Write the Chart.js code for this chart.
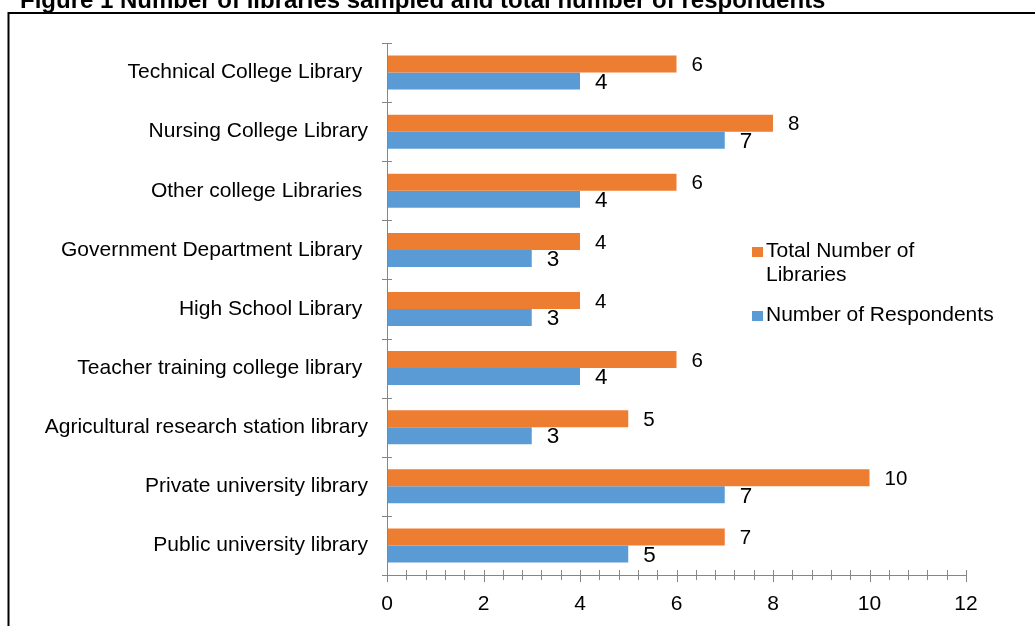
<!DOCTYPE html>
<html>
<head>
<meta charset="utf-8">
<title>Figure 1 Number of libraries sampled and total number of respondents</title>
<script src="https://cdn.jsdelivr.net/npm/chart.js@4.4.1/dist/chart.umd.min.js"></script>
<style>
  html, body { margin: 0; padding: 0; background: #ffffff; }
  #wrap { position: relative; width: 1035px; height: 626px; overflow: hidden; }
  canvas { display: block; }
</style>
</head>
<body>
<div id="wrap"><canvas id="chart" width="1035" height="626"></canvas></div>
<script>
// Library categories, top to bottom
const categories = [
  'Technical College Library ',
  'Nursing College Library',
  'Other college Libraries ',
  'Government Department Library ',
  'High School Library ',
  'Teacher training college library ',
  'Agricultural research station library',
  'Private university library',
  'Public university library'
];

// Totals and respondents per library type
const totalLibraries = [6, 8, 6, 4, 4, 6, 5, 10, 7];
const respondents    = [4, 7, 4, 3, 3, 4, 3, 7, 5];

// Series names (legend lines)
const seriesTotal = ['Total Number of', 'Libraries'];
const seriesResp  = ['Number of Respondents'];

// Value axis
const axisMin = 0;
const axisMax = 12;
const axisStep = 2;

const figureTitle = 'Figure 1 Number of libraries sampled and total number of respondents';

const ORANGE = '#ED7D31';
const BLUE = '#5B9BD5';
const AXIS = '#868686';
const FONT = '"Liberation Sans", Arial, Helvetica, sans-serif';

// Page title and frame around the figure
const framePlugin = {
  id: 'frame',
  beforeDraw(chart) {
    const ctx = chart.ctx;
    ctx.save();
    ctx.fillStyle = '#ffffff';
    ctx.fillRect(0, 0, chart.width, chart.height);
    ctx.strokeStyle = '#000000';
    ctx.lineWidth = 2;
    ctx.beginPath();
    ctx.moveTo(8.5, chart.height + 5);
    ctx.lineTo(8.5, 13);
    ctx.lineTo(chart.width + 5, 13);
    ctx.stroke();
    ctx.fillStyle = '#000000';
    ctx.font = 'bold 24px ' + FONT;
    ctx.textAlign = 'left';
    ctx.textBaseline = 'alphabetic';
    ctx.fillText(figureTitle, 20, 8);
    ctx.restore();
  }
};

// Cross tick marks on both axes (minor unit = major / 5)
const tickPlugin = {
  id: 'crossTicks',
  afterDraw(chart) {
    const ctx = chart.ctx;
    const xs = chart.scales.x;
    const ys = chart.scales.y;
    const a = chart.chartArea;
    ctx.save();
    ctx.strokeStyle = AXIS;
    ctx.lineWidth = 1;
    ctx.beginPath();
    // category boundaries on the y axis
    const n = ys.ticks.length;
    for (let i = 0; i <= n; i++) {
      const y = Math.round(ys.getPixelForValue(i - 0.5)) + 0.5;
      ctx.moveTo(a.left - 5, y);
      ctx.lineTo(a.left + 5, y);
    }
    // value ticks on the x axis
    const minor = axisStep / 5;
    const count = Math.round((axisMax - axisMin) / minor);
    for (let k = 0; k <= count; k++) {
      const x = Math.round(xs.getPixelForValue(axisMin + k * minor)) + 0.5;
      const major = k % 5 === 0;
      ctx.moveTo(x, a.bottom - 5);
      ctx.lineTo(x, a.bottom + (major ? 7 : 5));
    }
    ctx.stroke();
    // axis lines
    ctx.beginPath();
    ctx.moveTo(Math.round(a.left) + 0.5, Math.round(ys.getPixelForValue(-0.5)));
    ctx.lineTo(Math.round(a.left) + 0.5, Math.round(a.bottom) + 1);
    ctx.moveTo(Math.round(a.left), Math.round(a.bottom) + 0.5);
    ctx.lineTo(Math.round(a.right) + 1, Math.round(a.bottom) + 0.5);
    ctx.stroke();
    ctx.restore();
  }
};

// Value labels to the right of each bar
const valueLabelPlugin = {
  id: 'valueLabels',
  afterDatasetsDraw(chart) {
    const ctx = chart.ctx;
    ctx.save();
    ctx.fillStyle = '#000000';
    ctx.textAlign = 'left';
    ctx.textBaseline = 'middle';
    chart.data.datasets.forEach((ds, di) => {
      ctx.font = ds.labelSize + 'px ' + FONT;
      const meta = chart.getDatasetMeta(di);
      meta.data.forEach((bar, i) => {
        ctx.fillText(String(ds.data[i]), bar.x + 15, bar.y + 1.5);
      });
    });
    ctx.restore();
  }
};

// Legend placed inside the plot, right side
const legendPlugin = {
  id: 'sideLegend',
  afterDraw(chart) {
    const ctx = chart.ctx;
    ctx.save();
    ctx.font = '21px ' + FONT;
    ctx.textAlign = 'left';
    ctx.textBaseline = 'alphabetic';
    const boxX = 752, textX = 766;
    const tops = [257, 321];
    chart.data.datasets.forEach((ds, di) => {
      const base = tops[di];
      ctx.fillStyle = ds.backgroundColor;
      ctx.fillRect(boxX, base - 10, 11, 10);
      ctx.fillStyle = '#000000';
      ds.legendLines.forEach((line, li) => {
        ctx.fillText(line, textX, base + li * 23.5);
      });
    });
    ctx.restore();
  }
};

new Chart(document.getElementById('chart'), {
  type: 'bar',
  data: {
    labels: categories,
    datasets: [
      {
        label: seriesTotal.join(' '),
        legendLines: seriesTotal,
        labelSize: 20.5,
        data: totalLibraries,
        backgroundColor: ORANGE,
        borderWidth: 0,
        categoryPercentage: 0.575,
        barPercentage: 1.0
      },
      {
        label: seriesResp.join(' '),
        legendLines: seriesResp,
        labelSize: 22.5,
        data: respondents,
        backgroundColor: BLUE,
        borderWidth: 0,
        categoryPercentage: 0.575,
        barPercentage: 1.0
      }
    ]
  },
  options: {
    indexAxis: 'y',
    responsive: false,
    animation: false,
    events: [],
    layout: { padding: { top: 43, right: 69, left: 0, bottom: 0 } },
    plugins: {
      legend: { display: false },
      title: { display: false },
      tooltip: { enabled: false }
    },
    scales: {
      x: {
        min: axisMin,
        max: axisMax,
        grid: { display: false, drawTicks: false },
        border: { display: false },
        ticks: {
          stepSize: axisStep,
          color: '#000000',
          padding: 17,
          font: { family: FONT, size: 21 },
          maxRotation: 0
        },
        afterFit(scale) { scale.height = 51; }
      },
      y: {
        grid: { display: false, drawTicks: false },
        border: { display: false },
        ticks: {
          color: '#000000',
          padding: 19,
          font: { family: FONT, size: 21 },
          autoSkip: false
        },
        afterFit(scale) { scale.width = 387; }
      }
    }
  },
  plugins: [framePlugin, tickPlugin, valueLabelPlugin, legendPlugin]
});
</script>
</body>
</html>
